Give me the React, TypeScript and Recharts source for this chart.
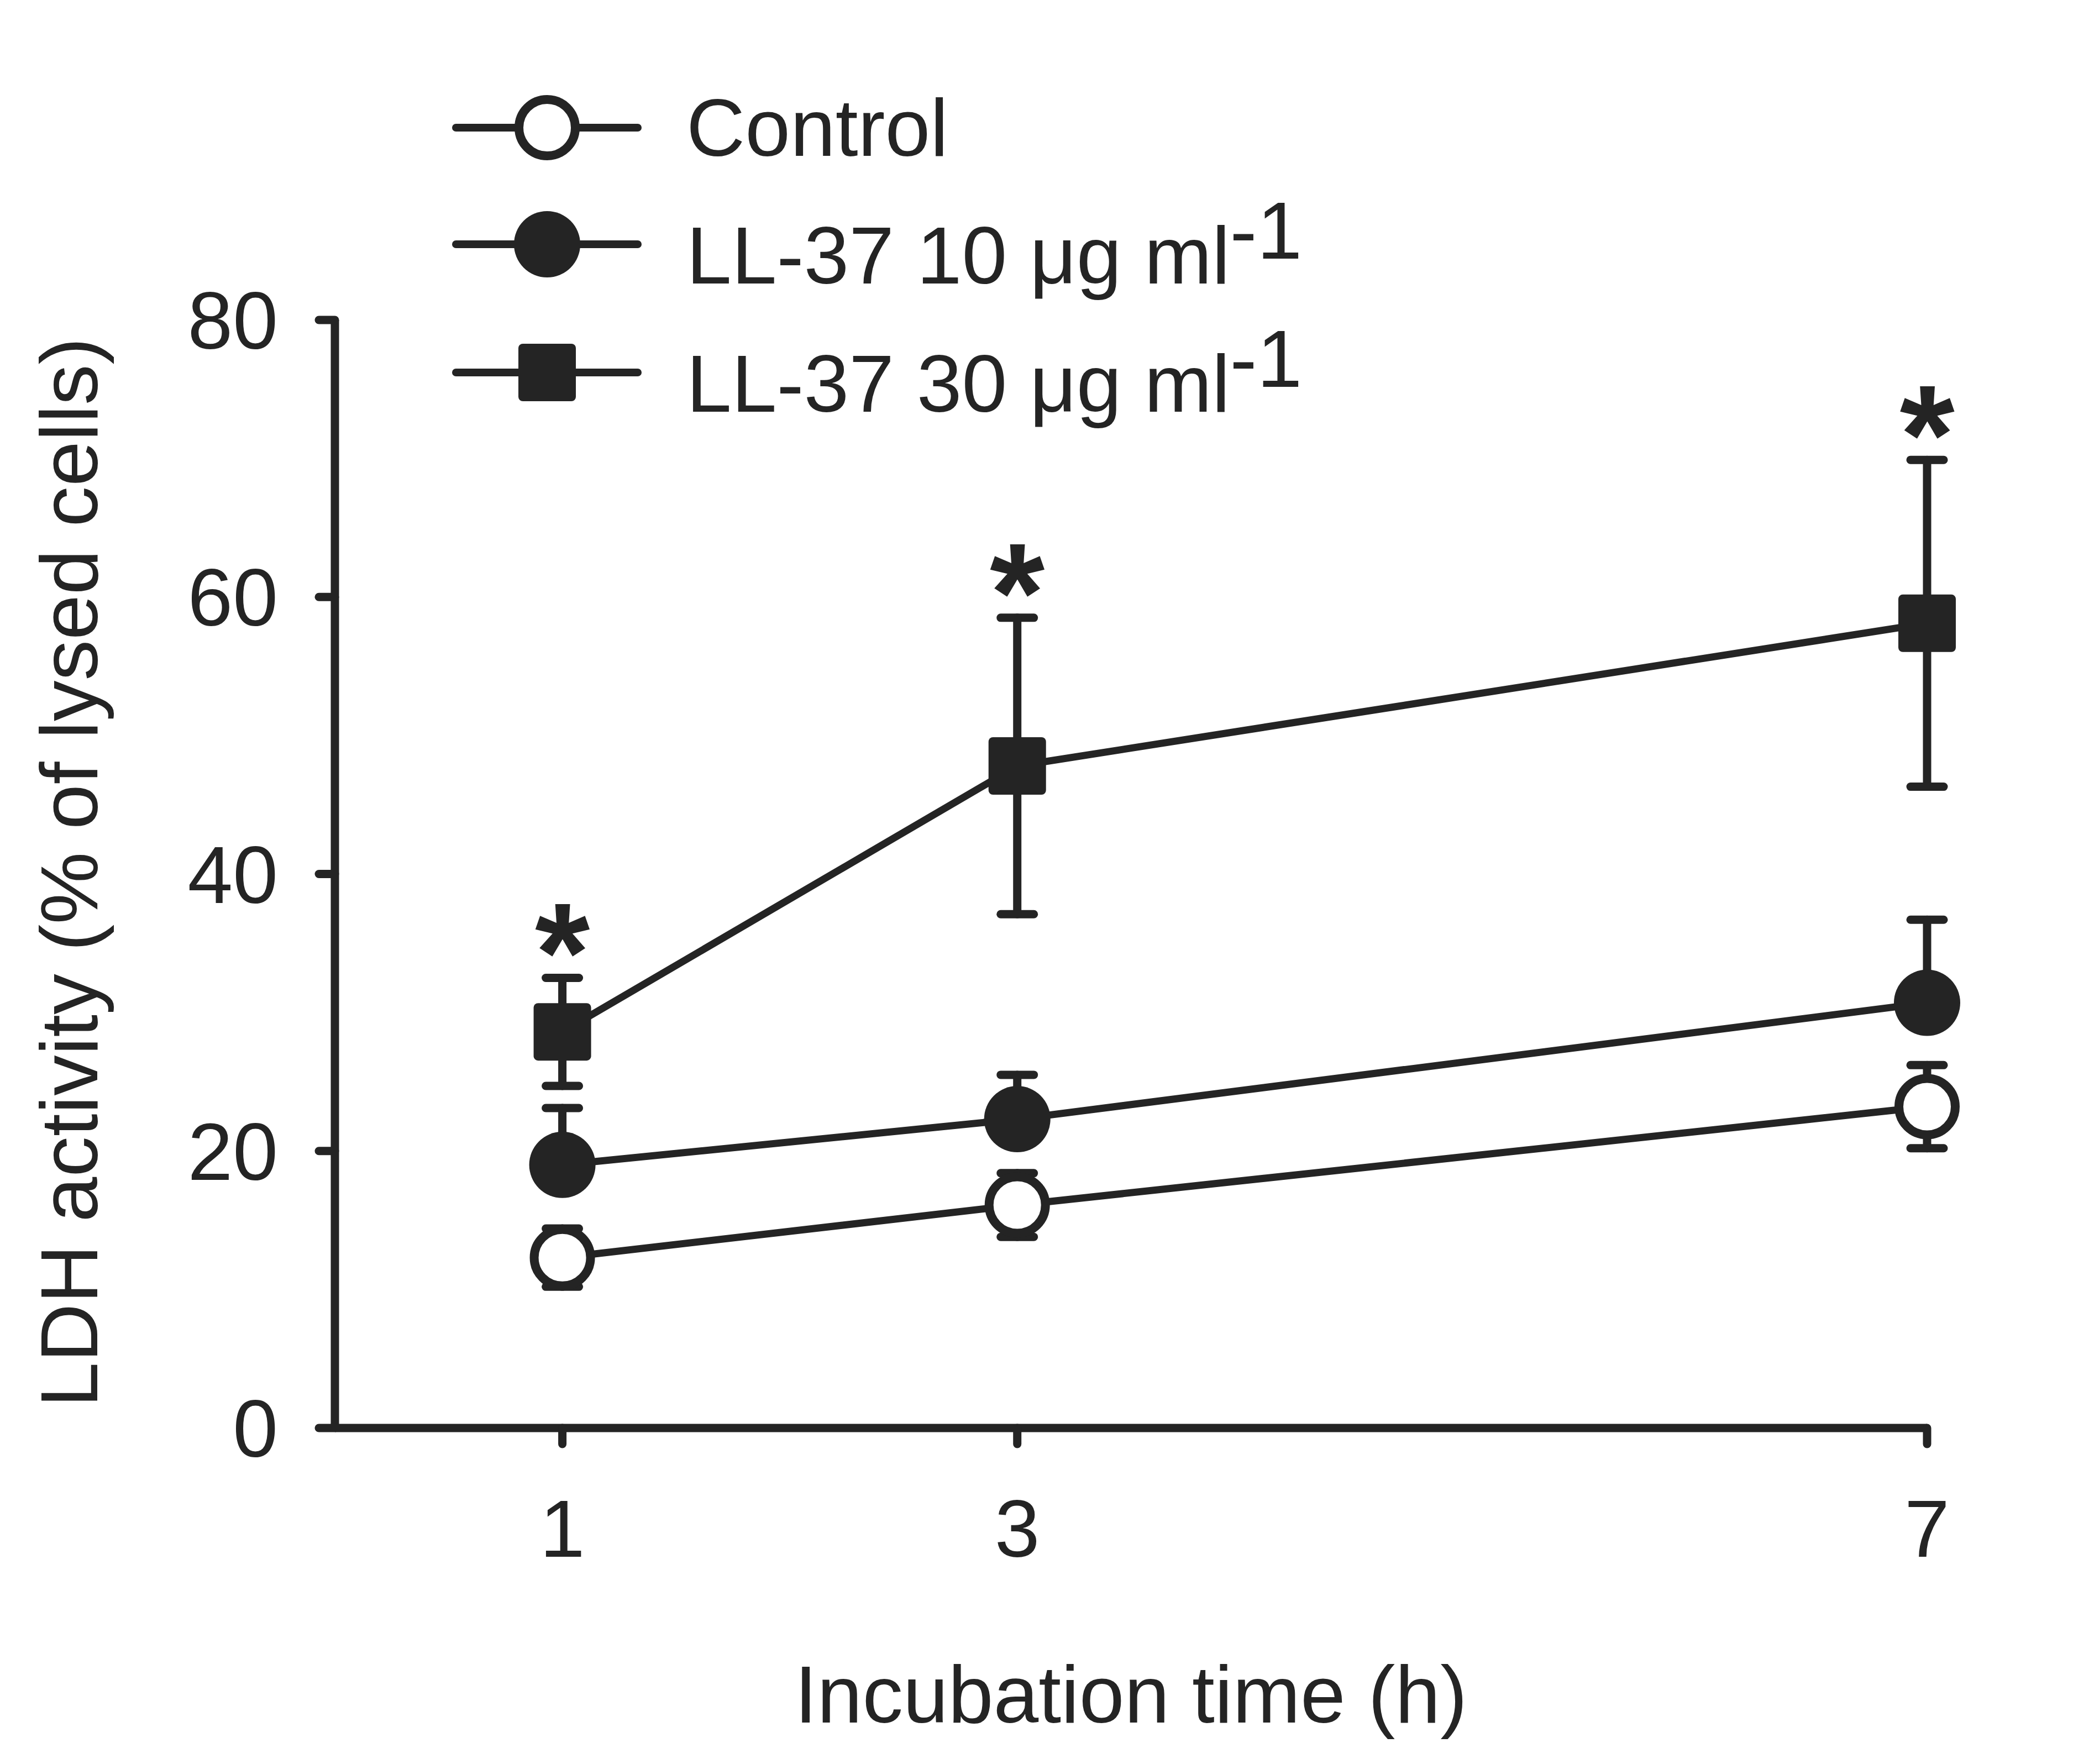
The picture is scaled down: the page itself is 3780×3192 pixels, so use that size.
import React from 'react';
import { ComposedChart, Line, Scatter, XAxis, YAxis, ErrorBar, Legend } from 'recharts';

const INK = '#242424';
const FONT = '"Liberation Sans", Arial, Helvetica, sans-serif';

// incubation time (h)
const hours = [1, 3, 7];
const yTicks = [0, 20, 40, 60, 80];

// LDH activity, % of lysed cells (mean and error)
const control = [12.3, 16.1, 23.2];
const controlSem = [2.1, 2.3, 3.0];
const ll37Low = [19.0, 22.3, 30.7];
const ll37LowSem = [4.1, 3.2, 6.0];
const ll37High = [28.6, 47.8, 58.1];
const ll37HighSem = [3.9, 10.7, 11.8];
const significant = [true, true, true];

const seriesNames = ['Control', 'LL-37 10 \u03bcg ml', 'LL-37 30 \u03bcg ml'];
const seriesSup = ['', '-1', '-1'];

const data = hours.map((h, i) => ({
  time: h,
  control: control[i],
  controlErr: controlSem[i],
  low: ll37Low[i],
  lowErr: [0, ll37LowSem[i]],
  high: ll37High[i],
  highErr: ll37HighSem[i],
  star: significant[i] ? ll37High[i] + ll37HighSem[i] : null,
}));

const OpenCircle = ({ cx, cy }: any) => (
  <circle cx={cx} cy={cy} r={51} fill="#fff" stroke={INK} strokeWidth={16} />
);
const FilledCircle = ({ cx, cy }: any) => <circle cx={cx} cy={cy} r={60} fill={INK} />;
const FilledSquare = ({ cx, cy }: any) => (
  <rect x={cx - 52} y={cy - 52} width={104} height={104} rx={8} fill={INK} />
);

const markers: Record<string, any> = { control: OpenCircle, low: FilledCircle, high: FilledSquare };

// legend row placement
const legendRows: Record<string, { idx: number; lineY: number; textY: number }> = {
  control: { idx: 0, lineY: 231, textY: 282 },
  low: { idx: 1, lineY: 442, textY: 513 },
  high: { idx: 2, lineY: 674, textY: 745 },
};

const renderLegend = ({ payload }: any) => (
  <svg width={3780} height={820} style={{ display: 'block' }}>
    {(payload || [])
      .filter((p: any) => legendRows[p.dataKey])
      .map((p: any) => {
        const row = legendRows[p.dataKey];
        const Marker = markers[p.dataKey];
        return (
          <g key={p.dataKey}>
            <line x1={825} x2={1154} y1={row.lineY} y2={row.lineY} stroke={INK} strokeWidth={14} strokeLinecap="round" />
            <Marker cx={990} cy={row.lineY} />
            <text x={1242} y={row.textY} fill={INK} fontSize={147} fontFamily={FONT}>
              {p.value}
              {seriesSup[row.idx] && <tspan dy={-45}>{seriesSup[row.idx]}</tspan>}
            </text>
          </g>
        );
      })}
  </svg>
);

const XTitle = ({ viewBox }: any) => (
  <text x={viewBox.x + viewBox.width / 2} y={viewBox.y + 533} textAnchor="middle" fill={INK} fontSize={147} fontFamily={FONT}>
    Incubation time (h)
  </text>
);

const YTitle = ({ viewBox }: any) => {
  const cy = viewBox.y + viewBox.height / 2 - 3;
  return (
    <text x={176} y={cy} transform={`rotate(-90, 176, ${cy})`} textAnchor="middle" fill={INK} fontSize={147} fontFamily={FONT}>
      LDH activity (% of lysed cells)
    </text>
  );
};

const Star = ({ cx, cy }: any) =>
  cy == null || isNaN(cy) ? null : (
    <text x={cx} y={cy + 42} textAnchor="middle" fill={INK} fontSize={255} fontWeight="bold" fontFamily={FONT}>
      *
    </text>
  );

const axisStyle = { stroke: INK, strokeWidth: 15 };
const tickLineStyle = { stroke: INK, strokeWidth: 15, strokeLinecap: 'round' };
const tickStyle = { fill: INK, fontSize: 147, fontFamily: FONT };
const errStyle = { stroke: INK, strokeWidth: 15, strokeLinecap: 'round' as const };

export default function App() {
  return (
    <div style={{ width: 3780, height: 3192, background: '#fff' }}>
      <style>{'body{margin:0}'}</style>
      <ComposedChart width={3780} height={3192} data={data} margin={{ top: 579, right: 293, bottom: 0, left: 0 }}>
        <XAxis
          dataKey="time"
          type="number"
          domain={[0, 7]}
          ticks={hours}
          height={608}
          axisLine={axisStyle}
          tickLine={tickLineStyle}
          tickSize={29}
          tickMargin={100}
          tick={tickStyle}
          label={<XTitle />}
        />
        <YAxis
          type="number"
          domain={[0, 80]}
          ticks={yTicks}
          width={606}
          axisLine={axisStyle}
          tickLine={tickLineStyle}
          tickSize={29}
          tickMargin={74}
          tick={tickStyle}
          label={<YTitle />}
        />
        <Legend
          content={renderLegend}
          layout="vertical"
          align="center"
          verticalAlign="middle"
          wrapperStyle={{ position: 'absolute', top: 0, left: 0, width: 3780, height: 820 }}
        />
        <Line
          dataKey="control"
          name={seriesNames[0]}
          stroke={INK}
          strokeWidth={13}
          isAnimationActive={false}
          activeDot={false}
          dot={(p: any) => <OpenCircle key={`c${p.index}`} cx={p.cx} cy={p.cy} />}
        >
          <ErrorBar dataKey="controlErr" direction="y" width={30} {...errStyle} isAnimationActive={false} />
        </Line>
        <Line
          dataKey="low"
          name={seriesNames[1]}
          stroke={INK}
          strokeWidth={13}
          isAnimationActive={false}
          activeDot={false}
          dot={(p: any) => <FilledCircle key={`l${p.index}`} cx={p.cx} cy={p.cy} />}
        >
          <ErrorBar dataKey="lowErr" direction="y" width={30} {...errStyle} isAnimationActive={false} />
        </Line>
        <Line
          dataKey="high"
          name={seriesNames[2]}
          stroke={INK}
          strokeWidth={13}
          isAnimationActive={false}
          activeDot={false}
          dot={(p: any) => <FilledSquare key={`h${p.index}`} cx={p.cx} cy={p.cy} />}
        >
          <ErrorBar dataKey="highErr" direction="y" width={30} {...errStyle} isAnimationActive={false} />
        </Line>
        <Scatter dataKey="star" legendType="none" isAnimationActive={false} shape={(p: any) => <Star {...p} />} />
      </ComposedChart>
    </div>
  );
}
